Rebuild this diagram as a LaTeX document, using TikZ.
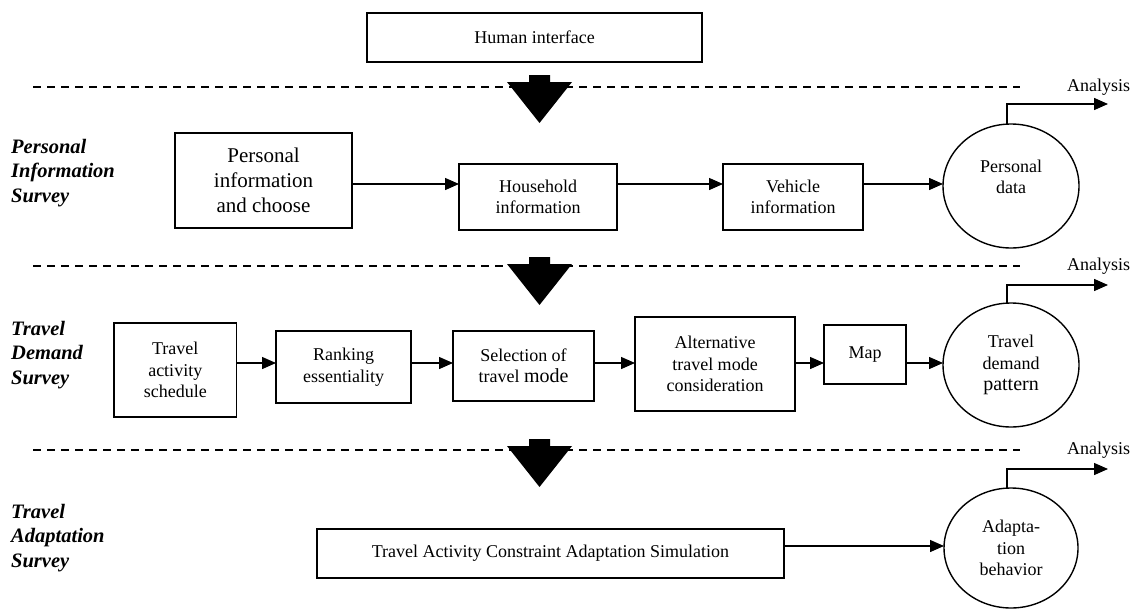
\documentclass[tikz,border=0pt]{standalone}
\usepackage{fontspec}
\setmainfont{Liberation Serif}
\usetikzlibrary{arrows.meta,shapes.geometric,calc}
\begin{document}
\begin{tikzpicture}[x=1pt,y=-1pt,
  box/.style={draw,line width=1.4pt,inner sep=0pt,outer sep=0pt,align=center,font=\fontsize{18}{21.5}\selectfont},
  ell/.style={draw,ellipse,line width=1.4pt,inner sep=0pt,outer sep=0pt,minimum width=136pt,minimum height=124pt,align=center,font=\fontsize{18}{21.5}\selectfont},
  txt/.style={align=center,inner sep=0pt,font=\fontsize{18}{21.5}\selectfont},
  lbl/.style={align=left,inner sep=0pt,anchor=west,font=\fontsize{20.5}{24.5}\selectfont\bfseries\itshape},
  arr/.style={line width=1.4pt,-{Triangle[length=14pt,width=12pt]}},
  sep/.style={dashed,line width=1.8pt,dash pattern=on 7.5pt off 6.5pt},
  bigarrow/.style={fill=black}]
\useasboundingbox (0,0) rectangle (1134,610);

% separators
\draw[sep] (33,87) -- (1020,87);
\draw[sep] (33,266) -- (1020,266);
\draw[sep] (33,450) -- (1020,450);

% big down arrows
\foreach \t in {75,257,439}{
  \fill[bigarrow] (529,\t) -- (550,\t) -- (550,\t+7) -- (572,\t+7) -- (539.5,\t+48) -- (507,\t+7) -- (529,\t+7) -- cycle;
}

% top
\node[box,minimum width=335pt,minimum height=49pt] (hi) at (534.5,37.5) {Human interface};

% section labels
\node[lbl] (l1) at (11,173) {Personal\\Information\\Survey};
\node[lbl] (l2) at (11,355) {Travel\\Demand\\Survey};
\node[lbl] (l3) at (11,538) {Travel\\Adaptation\\Survey};

% row 1
\coordinate (r1) at (0,184);
\node[box,minimum width=177pt,minimum height=95pt,font=\fontsize{21}{25}\selectfont] (pi) at (263.5,180.5) {Personal\\information\\and choose};
\node[box,minimum width=158pt,minimum height=66pt] (hh) at (538,197) {Household\\information};
\node[box,minimum width=140pt,minimum height=66pt] (vi) at (793,197) {Vehicle\\information};
\node[ell] (c1) at (1011,186) {};
\node[txt] (c1t) at ($(c1)+(0,-9)$) {Personal\\data};
\draw[arr] (pi.east |- r1) -- (hh.west |- r1);
\draw[arr] (hh.east |- r1) -- (vi.west |- r1);
\draw[arr] (vi.east |- r1) -- (c1.west |- r1);

% row 2
\coordinate (r2) at (0,363);
\node[box,minimum width=122.5pt,minimum height=94pt] (tas) at (175.25,370) {Travel\\activity\\schedule};
\node[box,minimum width=135pt,minimum height=72pt] (rk) at (343.5,367) {Ranking\\essentiality};
\node[box,minimum width=141pt,minimum height=70pt] (sel) at (523.5,366) {Selection of\\travel {\fontsize{20}{21.5}\selectfont mode}};
\node[box,minimum width=160pt,minimum height=94pt] (alt) at (715,364) {Alternative\\travel mode\\consideration};
\node[box,minimum width=82pt,minimum height=59pt] (map) at (865,354.5) {Map};
\node[ell] (c2) at (1011,365) {Travel\\demand\\{\fontsize{20}{21.5}\selectfont pattern}};
\draw[arr] (tas.east |- r2) -- (rk.west |- r2);
\draw[arr] (rk.east |- r2) -- (sel.west |- r2);
\draw[arr] (sel.east |- r2) -- (alt.west |- r2);
\draw[arr] (alt.east |- r2) -- (map.west |- r2);
\draw[arr] (map.east |- r2) -- (c2.west |- r2);

% row 3
\coordinate (r3) at (0,546);
\node[box,minimum width=467pt,minimum height=49pt] (tac) at (550.5,553.5) {Travel Activity Constraint Adaptation Simulation};
\node[ell,minimum width=134pt,minimum height=120pt] (c3) at (1011,548) {Adapta-\\tion\\behavior};
\draw[arr] (tac.east |- r3) -- (c3.west |- r3);

% analysis outputs
\coordinate (a1) at (1108,104);
\coordinate (a2) at (1108,285);
\coordinate (a3) at (1108,469);
\draw[arr] (c1.north -| 1007,0) |- (a1);
\draw[arr] (c2.north -| 1007,0) |- (a2);
\draw[arr] (c3.north -| 1007,0) |- (a3);
\node[txt,anchor=west] (t1) at (1067,87) {Analysis};
\node[txt,anchor=west] (t2) at (1067,266) {Analysis};
\node[txt,anchor=west] (t3) at (1067,450) {Analysis};
\end{tikzpicture}
\end{document}
